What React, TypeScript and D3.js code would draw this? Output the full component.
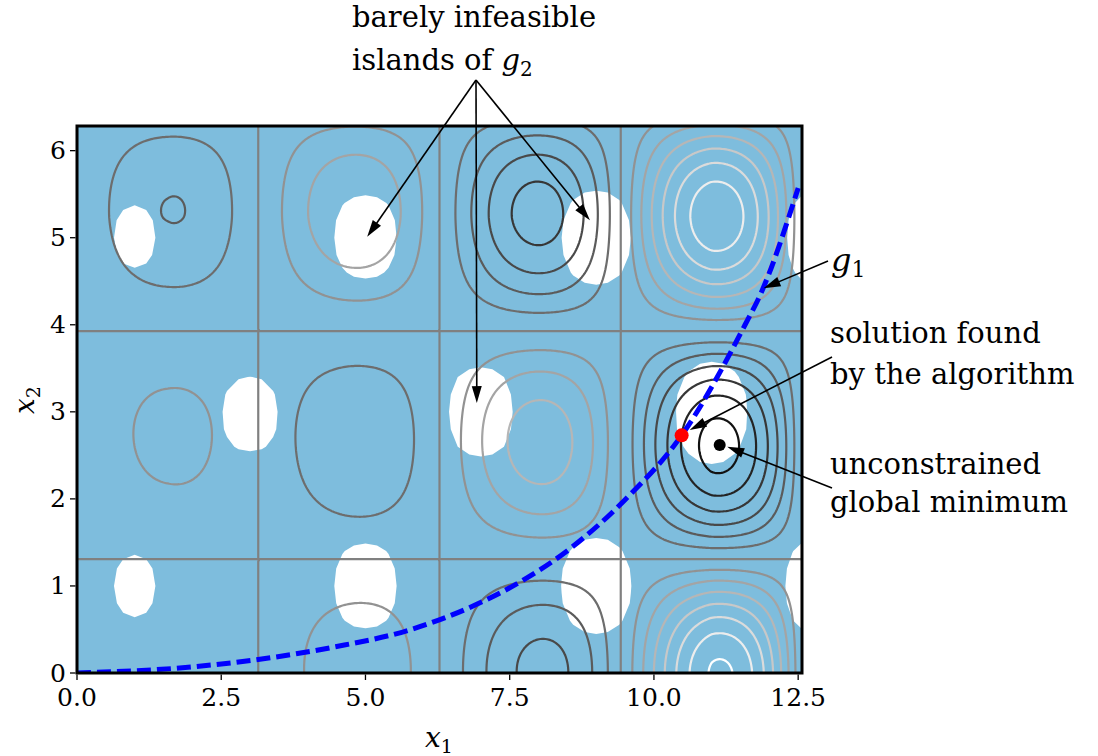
import React, { useMemo } from "react";
import * as d3 from "d3";

// ---------- data ----------
const PI = Math.PI;
const xDomain = [0, 4 * PI];
const yDomain = [0, 2 * PI];
const xTicks = [0, 2.5, 5, 7.5, 10, 12.5];
const yTicks = [0, 1, 2, 3, 4, 5, 6];

// objective: contour cells (peak magnitudes, in contour-level units)
const cellCentersX = [PI / 2, (3 * PI) / 2, (5 * PI) / 2, (7 * PI) / 2];
const rowCentersY = [0, 2.618, 5.236];
const peakBottom = [0.8, 1.67, 3.25, 7.1];
const peakMiddle = [1.25, 1.9, 3.5, 6.4];
const peakTop = [2.02, 2.85, 4.4, 6.75];
const yWave = 1.2;
const contourLevels = [-7, -6, -5, -4, -3, -2, -1, 0, 1, 2, 3, 4, 5, 6, 7];

// g2 infeasible islands
const islandX = [1, 5, 9, 13, 3, 7, 11, 1, 5, 9, 13];
const islandY = [5.01, 5.01, 5.0, 5.0, 2.97, 3.0, 2.99, 1.0, 1.0, 1.0, 1.0];
const islandW = [0.74, 1.1, 1.2, 1.4, 0.98, 1.12, 1.24, 0.74, 1.1, 1.22, 1.46];
const islandH = [0.74, 0.98, 1.1, 1.2, 0.87, 1.05, 1.18, 0.74, 1.0, 1.12, 1.2];

// g1 constraint boundary
const g1X = [0, 1.7, 3.08, 4.47, 5.74, 6.9, 7.64, 8.51, 9.5, 10.48, 11.58, 11.84, 12.5];
const g1Y = [0, 0.054, 0.15, 0.3, 0.49, 0.78, 1.03, 1.41, 1.99, 2.73, 4.0, 4.34, 5.57];

const solution = [10.48, 2.73];
const globalMin = [11.14, 2.62];

// annotation targets (data coords)
const islandArrowTargets = [
  [5.03, 5.01],
  [6.93, 3.1],
  [8.89, 5.2],
];
const g1Target = [11.9, 4.42];
const solutionTarget = [10.62, 2.79];
const minTarget = [11.27, 2.6];

// ---------- layout ----------
const W = 1098;
const H = 756;
const plot = { left: 77, top: 126, right: 802, bottom: 673 };
const FONT = "'DejaVu Serif', serif";
const BG = "#7ebddd";

function grayFor(level: number) {
  const t = (level - contourLevels[0]) / (contourLevels[contourLevels.length - 1] - contourLevels[0]);
  const v = Math.round(255 * t);
  return `rgb(${v},${v},${v})`;
}

// smooth (cubic Hermite, Catmull-Rom tangents) interpolation, damped linear extrapolation
function hermite(ts: number[], vs: number[], extra = 0.6) {
  const n = ts.length;
  const m = vs.map((_, k) => {
    if (k === 0) return (vs[1] - vs[0]) / (ts[1] - ts[0]);
    if (k === n - 1) return (vs[n - 1] - vs[n - 2]) / (ts[n - 1] - ts[n - 2]);
    return (vs[k + 1] - vs[k - 1]) / (ts[k + 1] - ts[k - 1]);
  });
  return (t: number) => {
    if (t <= ts[0]) return vs[0] + extra * m[0] * (t - ts[0]);
    if (t >= ts[n - 1]) return vs[n - 1] + extra * m[n - 1] * (t - ts[n - 1]);
    let k = 0;
    while (t > ts[k + 1]) k++;
    const h = ts[k + 1] - ts[k];
    const s = (t - ts[k]) / h;
    const s2 = s * s;
    const s3 = s2 * s;
    return (
      (2 * s3 - 3 * s2 + 1) * vs[k] +
      (s3 - 2 * s2 + s) * h * m[k] +
      (-2 * s3 + 3 * s2) * vs[k + 1] +
      (s3 - s2) * h * m[k + 1]
    );
  };
}

function Arrow({ from, to }: { from: number[]; to: number[] }) {
  const [x1, y1] = from;
  const [x2, y2] = to;
  const dx = x2 - x1;
  const dy = y2 - y1;
  const L = Math.hypot(dx, dy);
  const ux = dx / L;
  const uy = dy / L;
  const hl = 17;
  const hw = 5;
  const bx = x2 - ux * hl;
  const by = y2 - uy * hl;
  const pts = [
    [x2, y2],
    [bx - uy * hw, by + ux * hw],
    [bx + uy * hw, by - ux * hw],
  ];
  return (
    <g>
      <line x1={x1} y1={y1} x2={bx + ux * 2} y2={by + uy * 2} stroke="black" strokeWidth={1.6} />
      <polygon points={pts.map((p) => p.join(",")).join(" ")} fill="black" />
    </g>
  );
}

export default function App() {
  const x = d3.scaleLinear().domain(xDomain).range([plot.left, plot.right]);
  const y = d3.scaleLinear().domain(yDomain).range([plot.bottom, plot.top]);

  const { contourPaths, islandPath } = useMemo(() => {
    const rows = [peakBottom, peakMiddle, peakTop].map((r) => hermite(cellCentersX, r.map(Math.log)));

    // fine grid for the objective contours
    const pad = 0.25;
    const nx = 460;
    const ny = 240;
    const x0 = xDomain[0] - pad;
    const y0 = yDomain[0] - pad;
    const dxs = (xDomain[1] - xDomain[0] + 2 * pad) / (nx - 1);
    const dys = (yDomain[1] - yDomain[0] + 2 * pad) / (ny - 1);
    const vals: number[] = new Array(nx * ny);
    for (let i = 0; i < nx; i++) {
      const xx = x0 + i * dxs;
      const colVals = rows.map((s) => s(xx));
      const hy = hermite(rowCentersY, colVals);
      const sx = Math.sin(xx);
      for (let j = 0; j < ny; j++) {
        const yy = y0 + j * dys;
        vals[i + j * nx] = -Math.exp(hy(yy)) * sx * Math.cos(yWave * yy);
      }
    }
    const gen = d3.contours().size([nx, ny]).thresholds(contourLevels);
    const toPath = (geo: any, gx0: number, gy0: number, sx: number, sy: number) => {
      let s = "";
      for (const poly of geo.coordinates)
        for (const ring of poly) {
          s +=
            "M" +
            ring
              .map((p: number[]) => {
                const px = x(gx0 + (p[0] - 0.5) * sx);
                const py = y(gy0 + (p[1] - 0.5) * sy);
                return px.toFixed(2) + "," + py.toFixed(2);
              })
              .join("L") +
            "Z";
        }
      return s;
    };
    const contourPaths = gen(vals).map((c: any) => ({
      level: c.value,
      d: toPath(c, x0, y0, dxs, dys),
    }));

    // coarse grid for g2 islands
    const cs = 0.2;
    const ix0 = -0.4;
    const iy0 = -0.4;
    const inx = Math.ceil((xDomain[1] + 0.8) / cs) + 1;
    const iny = Math.ceil((yDomain[1] + 0.8) / cs) + 1;
    const ivals: number[] = new Array(inx * iny);
    for (let j = 0; j < iny; j++)
      for (let i = 0; i < inx; i++) {
        const xx = ix0 + i * cs;
        const yy = iy0 + j * cs;
        let best = -10;
        for (let k = 0; k < islandX.length; k++) {
          const a = Math.abs(xx - islandX[k]) / (islandW[k] / 2);
          const b = Math.abs(yy - islandY[k]) / (islandH[k] / 2);
          const v = 1 - Math.pow(a, 2.3) - Math.pow(b, 2.3);
          if (v > best) best = v;
        }
        ivals[i + j * inx] = best;
      }
    const igeo = d3.contours().size([inx, iny]).thresholds([0])(ivals)[0];
    const islandPath = toPath(igeo, ix0, iy0, cs, cs);
    return { contourPaths, islandPath };
  }, []);

  const line = d3
    .line<number>()
    .x((_, i) => x(g1X[i]))
    .y((_, i) => y(g1Y[i]))
    .curve(d3.curveMonotoneX);

  const apex = [476, 80];

  return (
    <svg
      width={W}
      height={H}
      style={{ position: "absolute", left: 0, top: 0, background: "white" }}
      fontFamily={FONT}
    >
      <defs>
        <clipPath id="plotclip">
          <rect x={plot.left} y={plot.top} width={plot.right - plot.left} height={plot.bottom - plot.top} />
        </clipPath>
      </defs>
      <g clipPath="url(#plotclip)">
        <rect x={plot.left} y={plot.top} width={plot.right - plot.left} height={plot.bottom - plot.top} fill={BG} />
        <path d={islandPath} fill="white" />
        {contourPaths.map((c) => (
          <path key={c.level} d={c.d} fill="none" stroke={grayFor(c.level)} strokeWidth={2.2} strokeLinejoin="round" />
        ))}
        <path d={line(g1X) || ""} fill="none" stroke="#0000ff" strokeWidth={5} strokeDasharray="14,6" />
        <circle cx={x(solution[0])} cy={y(solution[1])} r={7} fill="#ff0000" />
        <circle cx={x(globalMin[0])} cy={y(globalMin[1])} r={6} fill="black" />
      </g>
      <rect
        x={plot.left}
        y={plot.top}
        width={plot.right - plot.left}
        height={plot.bottom - plot.top}
        fill="none"
        stroke="black"
        strokeWidth={3}
      />
      {/* x axis */}
      {xTicks.map((t) => (
        <g key={"x" + t}>
          <line x1={x(t)} x2={x(t)} y1={plot.bottom + 1.5} y2={plot.bottom + 7} stroke="black" strokeWidth={1.3} />
          <text x={x(t)} y={plot.bottom + 33} fontSize={25} textAnchor="middle">
            {t.toFixed(1)}
          </text>
        </g>
      ))}
      {yTicks.map((t) => (
        <g key={"y" + t}>
          <line x1={plot.left - 1.5} x2={plot.left - 7} y1={y(t)} y2={y(t)} stroke="black" strokeWidth={1.3} />
          <text x={plot.left - 11} y={y(t) + 8.5} fontSize={25} textAnchor="end">
            {t}
          </text>
        </g>
      ))}
      <text x={439} y={747} fontSize={28} textAnchor="middle" fontStyle="italic">
        x<tspan fontSize={19} fontStyle="normal" dy={6}>1</tspan>
      </text>
      <text transform="translate(34,400) rotate(-90)" fontSize={28} textAnchor="middle" fontStyle="italic">
        x<tspan fontSize={19} fontStyle="normal" dy={6}>2</tspan>
      </text>

      {/* annotations */}
      <text x={352} y={27} fontSize={29}>barely infeasible</text>
      <text x={352} y={70} fontSize={29}>
        islands of <tspan fontStyle="italic">g</tspan>
        <tspan fontSize={20} dy={6}>2</tspan>
      </text>
      {islandArrowTargets.map((p, i) => (
        <Arrow key={i} from={apex} to={[x(p[0]), y(p[1])]} />
      ))}

      <text x={831} y={271} fontSize={32} fontStyle="italic">
        g<tspan fontSize={22} fontStyle="normal" dy={6}>1</tspan>
      </text>
      <Arrow from={[828, 261]} to={[x(g1Target[0]), y(g1Target[1])]} />

      <text x={830} y={343} fontSize={29}>solution found</text>
      <text x={830} y={384} fontSize={29}>by the algorithm</text>
      <Arrow from={[832, 357]} to={[x(solutionTarget[0]), y(solutionTarget[1])]} />

      <text x={830} y={474} fontSize={29}>unconstrained</text>
      <text x={830} y={512} fontSize={29}>global minimum</text>
      <Arrow from={[832, 488]} to={[x(minTarget[0]), y(minTarget[1])]} />
    </svg>
  );
}
